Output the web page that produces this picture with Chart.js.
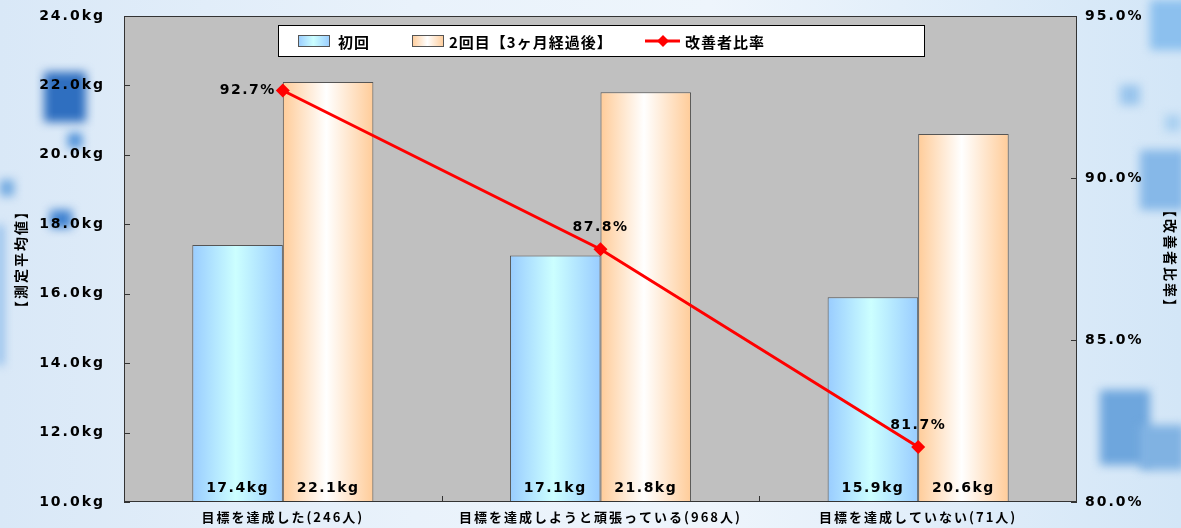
<!DOCTYPE html>
<html>
<head>
<meta charset="utf-8">
<script src="https://cdn.jsdelivr.net/npm/chart.js@4/dist/chart.umd.min.js"></script>
<style>
  html, body { margin: 0; padding: 0; }
  body {
    width: 1181px; height: 528px; overflow: hidden; position: relative;
    background: linear-gradient(to right, #d9e8f7 0%, #e9f2fb 35%, #eef5fc 60%, #d3e6f7 100%);
  }
  .sq { position: absolute; filter: blur(5px); }
  canvas { position: absolute; left: 0; top: 0; }
</style>
</head>
<body>
<div class="sq" style="left:44px;top:72px;width:42px;height:50px;background:#2f6fc0;"></div>
<div class="sq" style="left:68px;top:133px;width:14px;height:15px;background:#4b8fd8;"></div>
<div class="sq" style="left:50px;top:210px;width:22px;height:18px;background:#3f82d0;"></div>
<div class="sq" style="left:0px;top:180px;width:14px;height:16px;background:#6fa8e0;"></div>
<div class="sq" style="left:-4px;top:225px;width:8px;height:140px;background:#8fbdeb;"></div>
<div class="sq" style="left:1150px;top:0px;width:40px;height:50px;background:#8cc0ee;"></div>
<div class="sq" style="left:1120px;top:85px;width:20px;height:20px;background:#98c4ec;"></div>
<div class="sq" style="left:1140px;top:150px;width:45px;height:60px;background:#86b8e8;"></div>
<div class="sq" style="left:1100px;top:390px;width:50px;height:75px;background:#6ea6dd;"></div>
<div class="sq" style="left:1140px;top:425px;width:45px;height:45px;background:#80b2e2;"></div>
<div class="sq" style="left:1165px;top:115px;width:16px;height:16px;background:#a8cff0;"></div>
<canvas id="chart-canvas" width="1181" height="528"></canvas>
<script>
const categories = ["目標を達成した(246人)", "目標を達成しようと頑張っている(968人)", "目標を達成していない(71人)"];
const firstValues = [17.4, 17.1, 15.9];
const secondValues = [22.1, 21.8, 20.6];
const ratioValues = [92.7, 87.8, 81.7];
const seriesNames = ["初回", "2回目【3ヶ月経過後】", "改善者比率"];

const blueStops = ["#99ccff", "#ccffff", "#99ccff"];
const orangeStops = ["#ffcc99", "#ffffff", "#ffcc99"];
const catPct = 0.57;

const makeGrad = (ctx, left, width, stops) => {
  const g = ctx.createLinearGradient(left, 0, left + width, 0);
  g.addColorStop(0, stops[0]);
  g.addColorStop(0.48, stops[1]);
  g.addColorStop(1, stops[2]);
  return g;
};

const barFill = (stops) => {
  return (c) => {
    const chart = c.chart;
    const xs = chart.scales.x;
    if (!xs || c.type !== "data" || !xs.width) return stops[0];
    const center = xs.getPixelForValue(c.dataIndex);
    const w = (xs.width / categories.length) * catPct / 2;
    const left = c.datasetIndex === 0 ? center - w : center;
    return makeGrad(chart.ctx, left, w, stops);
  };
};

const numFont = { family: "'DejaVu Sans'", size: 14, weight: "bold" };
const jpFont = { family: "'Noto Sans CJK JP'", size: 14, weight: "bold" };

const fitY = (width) => (s) => {
  s.width = width;
  s.paddingTop = 0;
  s.paddingBottom = 0;
};

const plotPlugin = {
  id: "plotBox",
  beforeDraw(chart) {
    const { ctx, chartArea: a } = chart;
    ctx.letterSpacing = "2px";
    ctx.save();
    ctx.fillStyle = "#c0c0c0";
    ctx.fillRect(a.left, a.top, a.right - a.left, a.bottom - a.top);
    ctx.restore();
  },
  afterDatasetsDraw(chart) {
    const { ctx, chartArea: a } = chart;
    ctx.save();
    ctx.fillStyle = "#000";
    ctx.font = "bold 14px 'DejaVu Sans'";
    ctx.letterSpacing = "1.5px";
    ctx.textBaseline = "middle";
    ctx.textAlign = "center";
    [firstValues, secondValues].forEach((vals, di) => {
      chart.getDatasetMeta(di).data.forEach((bar, i) => {
        ctx.fillText(vals[i].toFixed(1) + "kg", bar.x, a.bottom - 14);
      });
    });
    chart.getDatasetMeta(2).data.forEach((p, i) => {
      const txt = ratioValues[i].toFixed(1) + "%";
      if (i === 0) {
        ctx.textAlign = "right";
        ctx.fillText(txt, p.x - 7, p.y);
      } else {
        ctx.textAlign = "center";
        ctx.fillText(txt, p.x, p.y - 22);
      }
    });
    ctx.restore();
  },
  afterDraw(chart) {
    const { ctx, chartArea: a, scales } = chart;
    ctx.save();
    ctx.strokeStyle = "#333";
    ctx.lineWidth = 1;
    ctx.strokeRect(a.left + 0.5, a.top + 0.5, a.right - a.left - 1, a.bottom - a.top - 1);
    ctx.beginPath();
    scales.y.ticks.forEach((t) => {
      const y = Math.round(scales.y.getPixelForValue(t.value)) + 0.5;
      ctx.moveTo(a.left, y); ctx.lineTo(a.left + 6, y);
    });
    scales.y1.ticks.forEach((t) => {
      const y = Math.round(scales.y1.getPixelForValue(t.value)) + 0.5;
      ctx.moveTo(a.right - 6, y); ctx.lineTo(a.right, y);
    });
    for (let i = 0; i < categories.length - 1; i++) {
      const x = Math.round((scales.x.getPixelForValue(i) + scales.x.getPixelForValue(i + 1)) / 2) + 0.5;
      ctx.moveTo(x, a.bottom); ctx.lineTo(x, a.bottom - 6);
    }
    ctx.stroke();

    // legend box
    const w = 647, h = 32;
    const x0 = Math.round((a.left + a.right) / 2 - w / 2) + 1;
    const y0 = a.top + 9;
    const cy = y0 + h / 2;
    ctx.fillStyle = "#fff";
    ctx.fillRect(x0, y0, w, h);
    ctx.strokeStyle = "#000";
    ctx.strokeRect(x0 + 0.5, y0 + 0.5, w - 1, h - 1);

    const swatch = (sx, stops) => {
      ctx.fillStyle = makeGrad(ctx, sx, 32, stops);
      ctx.fillRect(sx, cy - 6, 32, 12);
      ctx.strokeStyle = "#555";
      ctx.strokeRect(sx + 0.5, cy - 5.5, 31, 11);
    };
    swatch(x0 + 20, blueStops);
    swatch(x0 + 134, orangeStops);

    ctx.strokeStyle = "#ff0000";
    ctx.lineWidth = 3;
    ctx.beginPath();
    ctx.moveTo(x0 + 367, cy); ctx.lineTo(x0 + 402, cy);
    ctx.stroke();
    ctx.fillStyle = "#ff0000";
    ctx.beginPath();
    const dx = x0 + 385;
    ctx.moveTo(dx, cy - 6); ctx.lineTo(dx + 6, cy); ctx.lineTo(dx, cy + 6); ctx.lineTo(dx - 6, cy);
    ctx.closePath();
    ctx.fill();

    ctx.fillStyle = "#000";
    ctx.font = "bold 15px 'Noto Sans CJK JP'";
    ctx.letterSpacing = "1px";
    ctx.textBaseline = "middle";
    ctx.textAlign = "left";
    ctx.fillText(seriesNames[0], x0 + 60, cy + 1);
    ctx.fillText(seriesNames[1], x0 + 171, cy + 1);
    ctx.fillText(seriesNames[2], x0 + 407, cy + 1);
    ctx.restore();
  },
};

const ctx = document.getElementById("chart-canvas");

const chart = new Chart(ctx, {
  type: "bar",
  data: {
    labels: categories,
    datasets: [
      {
        label: seriesNames[0],
        data: firstValues,
        backgroundColor: barFill(blueStops),
        borderColor: "#555",
        borderWidth: 1,
        order: 1,
      },
      {
        label: seriesNames[1],
        data: secondValues,
        backgroundColor: barFill(orangeStops),
        borderColor: "#555",
        borderWidth: 1,
        order: 1,
      },
      {
        type: "line",
        label: seriesNames[2],
        data: ratioValues,
        yAxisID: "y1",
        borderColor: "#ff0000",
        backgroundColor: "#ff0000",
        borderWidth: 3,
        pointStyle: "rectRot",
        pointRadius: 7,
        pointBorderWidth: 0,
        tension: 0,
        order: 0,
      },
    ],
  },
  options: {
    responsive: false,
    animation: false,
    categoryPercentage: catPct,
    barPercentage: 1,
    layout: { padding: { top: 16, left: 0, right: 0, bottom: 0 } },
    plugins: { legend: { display: false }, tooltip: { enabled: false } },
    scales: {
      x: {
        grid: { display: false, drawTicks: false },
        border: { display: false },
        ticks: { color: "#000", font: { family: "'Noto Sans CJK JP'", size: 13, weight: "bold" }, padding: 7, maxRotation: 0, autoSkip: false },
        afterFit: (s) => { s.height = 26; s.paddingLeft = 0; s.paddingRight = 0; },
      },
      y: {
        position: "left",
        min: 10,
        max: 24,
        grid: { display: false, drawTicks: false },
        border: { display: false },
        ticks: {
          stepSize: 2,
          color: "#000",
          font: numFont,
          padding: 19,
          callback: (v) => v.toFixed(1) + "kg",
        },
        title: {
          display: true,
          text: "【測定平均値】",
          color: "#000",
          font: jpFont,
          padding: { top: 12, bottom: 0 },
        },
        afterFit: fitY(124),
      },
      y1: {
        position: "right",
        min: 80,
        max: 95,
        grid: { display: false, drawTicks: false },
        border: { display: false },
        ticks: {
          stepSize: 5,
          color: "#000",
          font: numFont,
          padding: 8,
          callback: (v) => v.toFixed(1) + "%",
        },
        title: {
          display: true,
          text: "【改善者比率】",
          color: "#000",
          font: jpFont,
          padding: { top: 2, bottom: 0 },
        },
        afterFit: fitY(104),
      },
    },
  },
  plugins: [plotPlugin],
});
chart.update();
</script>
</body>
</html>
